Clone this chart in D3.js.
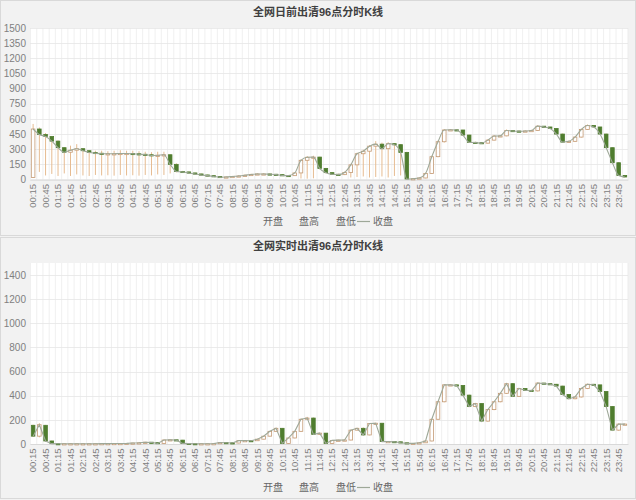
<!DOCTYPE html>
<html><head><meta charset="utf-8">
<script src="https://cdn.jsdelivr.net/npm/d3@7/dist/d3.min.js"></script>
<style>
body{margin:0;background:#f2f2f2;}
svg{display:block;font-family:"Liberation Sans","Noto Sans CJK SC",sans-serif;}
</style></head><body><svg id="c" width="636" height="500"></svg>
<script>
const categories = ["00:15","00:30","00:45","01:00","01:15","01:30","01:45","02:00","02:15","02:30","02:45","03:00","03:15","03:30","03:45","04:00","04:15","04:30","04:45","05:00","05:15","05:30","05:45","06:00","06:15","06:30","06:45","07:00","07:15","07:30","07:45","08:00","08:15","08:30","08:45","09:00","09:15","09:30","09:45","10:00","10:15","10:30","10:45","11:00","11:15","11:30","11:45","12:00","12:15","12:30","12:45","13:00","13:15","13:30","13:45","14:00","14:15","14:30","14:45","15:00","15:15","15:30","15:45","16:00","16:15","16:30","16:45","17:00","17:15","17:30","17:45","18:00","18:15","18:30","18:45","19:00","19:15","19:30","19:45","20:00","20:15","20:30","20:45","21:00","21:15","21:30","21:45","22:00","22:15","22:30","22:45","23:00","23:15","23:30","23:45","24:00"];

// 日前 (day-ahead)
const daOpen = [20,500,445,425,380,315,270,290,305,285, 268,260,255,255,255,258,258,255,250,245, 238,240,245,150,80,75,65,55,45,38, 30,22,25,30,35,42,50,55,55,52, 48,40,38,65,190,220,222,110,68,52, 48,70,145,255,280,330,350,305,355,345, 268,5,8,15,60,226,374,490,492,490, 440,368,365,360,390,430,432,485,480,478, 480,485,528,520,505,450,370,378,420,495, 535,520,450,315,166,40];
const daHigh = [550,515,460,430,388,320,335,350,310,290, 285,285,280,285,290,285,285,280,275,270, 275,275,250,160,85,78,68,58,48,40, 32,32,36,42,50,58,62,62,60,56, 50,45,72,200,232,235,225,115,72,58, 78,155,265,295,340,380,365,370,360,348, 275,15,22,68,235,385,500,500,498,492, 445,375,368,398,440,440,495,490,485,488, 492,538,530,522,510,455,385,428,505,545, 538,522,455,318,170,45];
const daLow = [15,75,40,55,35,60,35,50,40,35, 45,40,42,38,45,40,42,38,45,40, 50,45,60,70,68,58,48,40,32,25, 18,20,24,28,33,40,48,50,46,42, 34,32,35,10,8,12,100,60,45,42, 44,20,25,30,20,25,30,20,35,40, 3,2,6,12,55,220,365,485,482,435, 362,358,352,355,385,425,428,475,472,474, 478,480,515,500,445,365,362,372,415,490, 515,445,310,160,35,20];
const daClose = [500,445,425,380,315,270,290,305,285,268, 260,255,255,255,258,258,255,250,245,238, 240,245,150,80,75,65,55,45,38,30, 22,25,30,35,42,50,55,55,52,48, 40,38,65,190,220,222,110,68,52,48, 70,145,255,280,330,350,305,355,345,268, 5,8,15,60,226,374,490,492,490,440, 368,365,360,390,430,432,485,480,478,480, 485,528,520,505,450,370,378,420,495,535, 520,450,315,166,40,25];

// 实时 (real-time)
const rtOpen = [155,65,155,25,3,2,2,2,2,2, 2,2,3,3,4,4,5,8,10,15, 12,5,33,35,32,5,3,2,2,2, 3,12,10,8,28,28,27,40,65,105, 130,5,50,105,205,215,80,90,5,30, 32,33,115,130,75,170,172,20,20,18, 10,5,5,10,25,205,350,490,490,485, 405,310,335,190,285,350,420,500,395,460, 445,440,505,500,495,480,410,375,390,460, 495,490,435,310,115,165];
const rtHigh = [160,172,158,28,4,3,3,3,3,3, 3,4,4,5,5,6,9,12,17,16, 13,36,38,37,34,6,4,3,3,4, 14,13,11,30,31,30,43,68,108,135, 133,53,108,210,225,220,93,92,33,35, 36,118,135,138,174,176,175,23,22,20, 12,7,12,28,210,355,495,495,493,488, 410,340,338,290,355,425,505,505,465,462, 448,510,508,502,498,483,413,395,465,500, 498,492,438,315,170,170];
const rtLow = [60,55,20,1,1,1,1,1,1,1, 1,2,2,3,3,3,4,7,9,10, 3,3,30,30,3,2,1,1,1,1, 2,8,6,6,25,24,25,38,62,100, 2,3,47,100,200,75,77,3,3,28, 30,30,110,72,72,165,17,17,15,8, 3,3,4,8,22,200,345,485,480,400, 305,305,185,185,280,345,415,390,390,440, 435,435,495,490,475,405,370,370,385,455, 485,430,305,110,110,160];
const rtClose = [65,160,25,3,2,2,2,2,2,2, 2,3,3,4,4,5,8,10,15,12, 5,33,35,32,5,3,2,2,2,3, 12,10,8,28,28,27,40,65,105,130, 5,50,105,205,215,80,90,5,30,32, 33,115,130,75,170,172,20,20,18,10, 5,5,10,25,205,350,490,490,485,405, 310,335,190,285,350,420,500,395,460,445, 440,505,500,495,480,410,375,390,460,495, 490,435,310,115,165,165];

const daTicks = [0,150,300,450,600,750,900,1050,1200,1350,1500];
const rtTicks = [0,200,400,600,800,1000,1200,1400];
const titles = ["全网日前出清96点分时K线","全网实时出清96点分时K线"];
const legendLabels = ["开盘","盘高","盘低","收盘"];

const C = {up:"#c49a74", down:"#4f7d2f", wick:"#e6bb90", close:"#9ea898", grid:"#e6e6e6", vgrid:"#ececec", text:"#808080", title:"#404040"};

const svg = d3.select("#c");

const panels = [
  {py:0, ph:235, top:28, bottom:179.5, max:1500, ticks:daTicks, title:titles[0], titleY:16, legendY:225, O:daOpen,H:daHigh,L:daLow,Cl:daClose, curve:d3.curveMonotoneX},
  {py:237, ph:261, top:263, bottom:444, max:1500, ticks:rtTicks, title:titles[1], titleY:250, legendY:491, O:rtOpen,H:rtHigh,L:rtLow,Cl:rtClose, curve:d3.curveLinear}
];

panels.forEach(p => {
  const g = svg.append("g");
  g.append("rect").attr("x",0.5).attr("y",p.py+0.5).attr("width",635).attr("height",p.ph)
    .attr("fill","#f2f2f2").attr("stroke","#d9d9d9");
  const x = d3.scaleBand().domain(categories).range([30,628]);
  const y = d3.scaleLinear().domain([0,p.max]).range([p.bottom,p.top]);
  g.append("rect").attr("x",30).attr("y",p.top).attr("width",598).attr("height",p.bottom-p.top).attr("fill","#fff");
  g.selectAll(".vg").data(categories).enter().append("line")
    .attr("x1",d=>x(d)+0.5).attr("x2",d=>x(d)+0.5).attr("y1",p.top).attr("y2",p.bottom)
    .attr("stroke",C.vgrid).attr("stroke-width",0.8);
  g.append("line").attr("x1",628).attr("x2",628).attr("y1",p.top).attr("y2",p.bottom).attr("stroke",C.vgrid);
  g.selectAll(".hg").data(p.ticks).enter().append("line")
    .attr("x1",30).attr("x2",628).attr("y1",d=>Math.round(y(d))+0.5).attr("y2",d=>Math.round(y(d))+0.5)
    .attr("stroke",C.grid).attr("stroke-width",0.8);
  const ya = d3.axisLeft(y).tickValues(p.ticks).tickFormat(d3.format("d")).tickSize(0).tickPadding(4);
  const yg = g.append("g").attr("transform","translate(30,0)").call(ya);
  yg.select(".domain").remove();
  yg.selectAll("text").attr("fill",C.text).attr("font-size","10px").attr("font-family",'"Liberation Sans",sans-serif');
  const xa = d3.axisBottom(x).tickValues(categories.filter((d,i)=>i%2===0)).tickSize(0).tickPadding(0);
  const xg = g.append("g").attr("transform",`translate(0,${p.bottom})`).call(xa);
  xg.select(".domain").attr("stroke","#d9d9d9");
  xg.selectAll("text").attr("fill",C.text).attr("font-size","9.5px").attr("font-family",'"Liberation Sans",sans-serif')
    .attr("transform","rotate(-90)").attr("text-anchor","end").attr("dy","0.35em").attr("x",-4.5).attr("y",0);
  const idx = d3.range(categories.length);
  const cx = i => x(categories[i]) + x.bandwidth()/2;
  g.selectAll(".wk").data(idx).enter().append("line")
    .attr("x1",i=>cx(i)).attr("x2",i=>cx(i)).attr("y1",i=>y(p.H[i])).attr("y2",i=>y(p.L[i]))
    .attr("stroke",C.wick).attr("stroke-width",1);
  const bw = 3.6;
  g.selectAll(".bd").data(idx).enter().append("rect")
    .attr("x",i=>cx(i)-bw/2).attr("width",bw)
    .attr("y",i=>y(Math.max(p.O[i],p.Cl[i])))
    .attr("height",i=>Math.max(1.2, Math.abs(y(p.O[i])-y(p.Cl[i]))))
    .attr("fill",i=>p.Cl[i]>=p.O[i]?"#fff":C.down)
    .attr("stroke",i=>p.Cl[i]>=p.O[i]?C.up:C.down).attr("stroke-width",0.8);
  const line = d3.line().x(i=>cx(i)).y(i=>y(p.Cl[i])).curve(p.curve);
  g.append("path").datum(idx).attr("d",line).attr("fill","none").attr("stroke",C.close).attr("stroke-width",1.1);
  g.append("text").attr("x",318).attr("y",p.titleY).attr("text-anchor","middle")
    .attr("font-size","11px").attr("font-weight","bold").attr("fill",C.title).text(p.title);
  const lg = g.append("g").attr("font-size","10px").attr("fill","#666");
  lg.append("text").attr("x",263).attr("y",p.legendY).text(legendLabels[0]);
  lg.append("text").attr("x",299).attr("y",p.legendY).text(legendLabels[1]);
  lg.append("text").attr("x",336).attr("y",p.legendY).text(legendLabels[2]);
  lg.append("line").attr("x1",357).attr("x2",370).attr("y1",p.legendY-3.5).attr("y2",p.legendY-3.5).attr("stroke",C.close).attr("stroke-width",1.2);
  lg.append("text").attr("x",373).attr("y",p.legendY).text(legendLabels[3]);
});
</script></body></html>
